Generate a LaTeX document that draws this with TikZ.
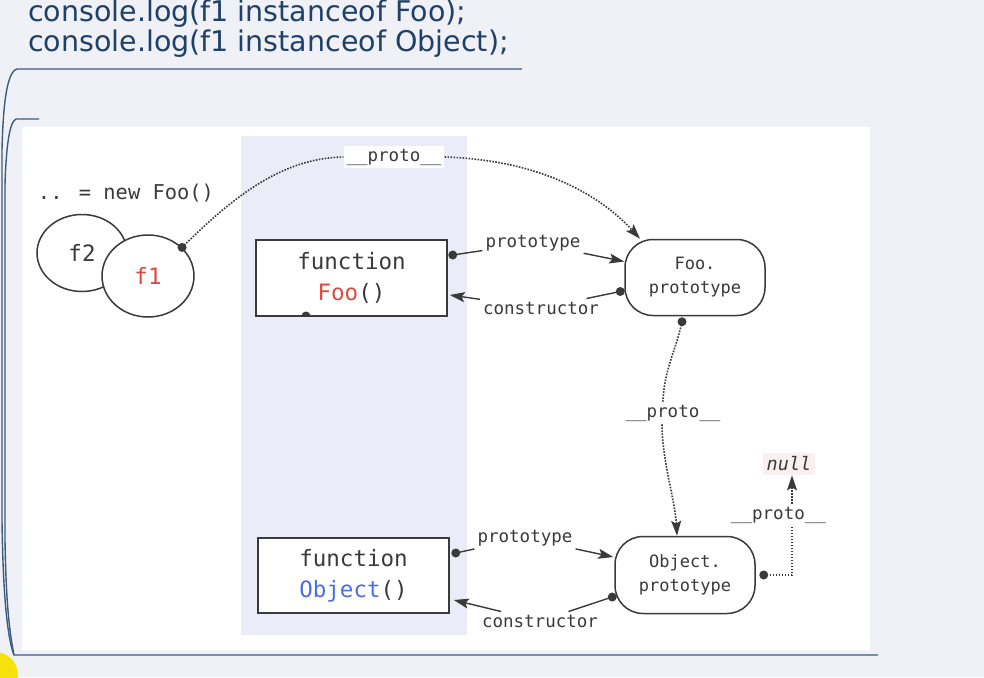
\documentclass[tikz,border=0pt]{standalone}
\usepackage{fontspec}
\setmainfont{DejaVu Sans}
\newfontfamily\monof{DejaVu Sans Mono}
\usetikzlibrary{arrows.meta,shapes.geometric,calc}
\definecolor{bgc}{RGB}{240,241,246}
\definecolor{lav}{RGB}{236,236,249}
\definecolor{ink}{RGB}{58,58,58}
\definecolor{topc}{RGB}{31,64,104}
\definecolor{brk}{RGB}{61,90,128}
\definecolor{fred}{RGB}{225,72,58}
\definecolor{oblue}{RGB}{74,110,224}
\definecolor{nullbg}{RGB}{251,240,240}
\definecolor{yel}{RGB}{245,226,10}
\tikzset{
  fbox/.style={draw=ink, line width=1.5pt, fill=white, minimum width=191pt, minimum height=76pt, inner sep=0pt, align=center, font=\monof\fontsize{22.5}{31}\selectfont, text=ink},
  pbox/.style={draw=ink, line width=1.5pt, fill=white, rounded corners=28pt, minimum width=140pt, minimum height=76pt, inner sep=0pt, align=center, font=\monof\fontsize{17}{24}\selectfont, text=ink},
  ebox/.style={ellipse, draw=ink, line width=1.5pt, fill=white, inner sep=0pt, font=\monof\fontsize{22.5}{26}\selectfont, text=ink},
  lbl/.style={font=\monof\fontsize{17.5}{20}\selectfont, text=ink, inner sep=3pt},
  conn/.style={draw=ink, line width=1.4pt},
  dconn/.style={draw=ink, line width=1.6pt, dash pattern=on 1.6pt off 1.4pt},
  tipa/.style={-{Stealth[length=15pt,width=10pt,inset=3pt]}},
  topt/.style={anchor=base west, font=\fontsize{28.5}{30}\selectfont, text=topc, inner sep=0pt},
  brline/.style={draw=brk, line width=1.4pt}
}
\begin{document}
\begin{tikzpicture}[x=1pt,y=1pt]
\useasboundingbox (0,0) rectangle (984,-677);
\fill[bgc] (0,0) rectangle (984,-677);
% panel and column
\fill[white] (22,-127) rectangle (870,-650);
\fill[lav] (241,-136) rectangle (467,-635);
% top code
\node[topt] (t1) at (28,-22) {console.log(f1 instanceof Foo);};
\node[topt] (t2) at (28,-52) {console.log(f1 instanceof Object);};
% brackets
\draw[brline] (522,-69) -- (17,-69) .. controls (6,-72) and (3,-110) .. (2,-150) -- (2,-520) .. controls (3,-600) and (8,-640) .. (14,-655) -- (878,-655);
\draw[brline] (39,-119) -- (16,-119) .. controls (9,-122) and (6,-150) .. (5,-185) -- (5,-540) .. controls (6,-600) and (9,-630) .. (14,-655);
% yellow marker
\fill[yel] (-5,-675) circle (23);
% objects
\node[font=\monof\fontsize{20.4}{24}\selectfont, text=ink] (newfoo) at (126,-193) {.. = new Foo()};
\node[ebox, minimum width=90pt, minimum height=77pt] (f2) at (82,-253) {f2};
\node[ebox, minimum width=92pt, minimum height=82pt] (f1) at (148,-276) {\raisebox{-4pt}{\textcolor{fred}{f1}}};
\node[fbox] (fooF) at (351.5,-278) {function\\\textcolor{fred}{Foo}()};
\node[pbox] (fooP) at (695,-277.5) {Foo.\\prototype};
\node[fbox, minimum height=75pt] (objF) at (353.5,-575.5) {function\\\textcolor{oblue}{Object}()};
\node[pbox, minimum height=77pt] (objP) at (685,-575) {Object.\\prototype};
% labels
\node[lbl, fill=white] (p1) at (394,-157) {\_\_proto\_\_};
\node[lbl] (l1) at (533,-243) {prototype};
\node[lbl] (l2) at (541,-308) {constructor};
\node[lbl] (p2) at (673,-413) {\_\_proto\_\_};
\node[lbl] (l3) at (525,-538) {prototype};
\node[lbl] (l4) at (540,-621) {constructor};
\node[lbl] (p3) at (778.5,-515) {\_\_proto\_\_};
\node[font=\monof\itshape\fontsize{18.5}{20}\selectfont, text=ink, fill=nullbg, inner sep=4pt] (null) at (789,-464) {null};
% anchor points
\coordinate (a1) at ([xshift=5pt,yshift=23pt]fooF.east);
\coordinate (ta1) at ([yshift=16pt]fooP.west);
\coordinate (c1) at ([xshift=-4pt,yshift=-14pt]fooP.west);
\coordinate (tc1) at ([xshift=2pt,yshift=-17pt]fooF.east);
\coordinate (d1) at ([xshift=-13pt,yshift=-5.5pt]fooP.south);
\coordinate (td1) at ([xshift=-8pt]objP.north);
\coordinate (a2) at ([xshift=6pt,yshift=22.5pt]objF.east);
\coordinate (ta2) at ([xshift=-1pt,yshift=18pt]objP.west);
\coordinate (c2) at ([xshift=-2pt,yshift=-22pt]objP.west);
\coordinate (tc2) at ([xshift=4pt,yshift=-24.5pt]objF.east);
\coordinate (n1) at ([xshift=8pt]objP.east);
\coordinate (k) at (792,-575);
\coordinate (fdot) at (f1.40);
\coordinate (fdot2) at (306,-316);
% f1 __proto__
\draw[dconn] (fdot) .. controls (230,-200) and (280,-158) .. (p1.west);
\draw[dconn,tipa] (p1.east) .. controls (540,-160) and (600,-195) .. ([xshift=-55pt]fooP.north);
% Foo prototype / constructor
\draw[conn] (a1) -- (l1);
\draw[conn,tipa] (l1) -- (ta1);
\draw[conn] (c1) -- (l2);
\draw[conn,tipa] (l2) -- (tc1);
% Foo.prototype __proto__
\draw[dconn] (d1) .. controls (676,-350) and (664,-370) .. ([xshift=-10pt]p2.north);
\draw[dconn,tipa] ([xshift=-11pt]p2.south) .. controls (662,-460) and (675,-500) .. (td1);
% Object prototype / constructor
\draw[conn] (a2) -- (l3);
\draw[conn,tipa] (l3) -- (ta2);
\draw[conn] (c2) -- (l4);
\draw[conn,tipa] (l4) -- (tc2);
% Object.prototype __proto__ -> null
\draw[dconn] (n1) -- (k) -- (k |- p3.south);
\draw[dconn,tipa] (k |- p3.north) -- (k |- null.south);
% dots
\foreach \p in {fdot,a1,c1,d1,a2,c2,n1} \fill[ink] (\p) circle (4.5pt);
\fill[ink] ([xshift=-4.5pt]fdot2) arc (180:0:4.5pt) -- cycle;
\end{tikzpicture}
\end{document}
